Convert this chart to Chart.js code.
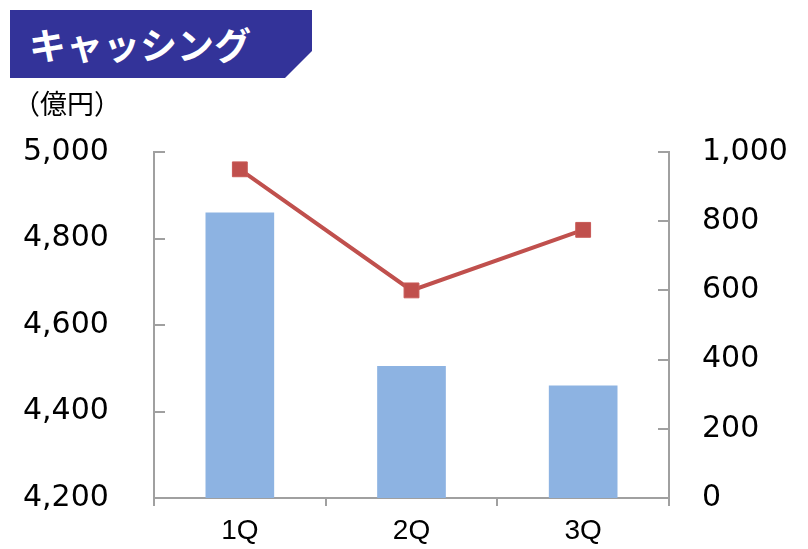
<!DOCTYPE html>
<html lang="ja">
<head>
<meta charset="utf-8">
<title>キャッシング</title>
<script src="https://cdn.jsdelivr.net/npm/chart.js@4"></script>
<style>
  html, body { margin: 0; padding: 0; background: #ffffff; }
  #wrap { position: relative; width: 808px; height: 549px; overflow: hidden; }
  #chart { position: absolute; left: 0; top: 0; }
  #banner {
    position: absolute; left: 10px; top: 10px; width: 302px; height: 68px;
    background: #333399;
    clip-path: polygon(0 0, 100% 0, 100% 41px, 275px 100%, 0 100%);
  }
  #banner span {
    position: absolute; left: 19px; top: 11px;
    font-family: "Noto Sans CJK JP", sans-serif; font-weight: bold;
    font-size: 37px; line-height: 46px; color: #ffffff;
  }
  #unit {
    position: absolute; left: 13px; top: 85px;
    font-family: "Noto Sans CJK JP", sans-serif;
    font-size: 27px; line-height: 36px; color: #000000;
  }
</style>
</head>
<body>
<div id="wrap">
  <canvas id="chart" width="808" height="549"></canvas>
  <div id="banner"><span>キャッシング</span></div>
  <div id="unit">（億円）</div>
</div>
<script>
// Quarterly cashing figures (億円)
const categories = ['1Q', '2Q', '3Q'];
const balanceValues = [4860, 4505, 4460];   // bars, left axis
const lineValues = [950, 600, 775];         // line, right axis
const leftTicks = [4200, 4400, 4600, 4800, 5000];
const rightTicks = [0, 200, 400, 600, 800, 1000];

const AXIS_GREY = '#a0a0a0';
const numFont = { family: '"DejaVu Sans", Verdana, sans-serif', size: 30 };
const fmt = v => Number(v).toLocaleString('en-US');

// Short tick marks drawn inward from each value axis
const innerTicks = {
  id: 'innerTicks',
  afterDraw(chart) {
    const ctx = chart.ctx;
    ctx.save();
    ctx.strokeStyle = AXIS_GREY;
    ctx.lineWidth = 2;
    [['y', 1], ['y1', -1]].forEach(([id, dir]) => {
      const s = chart.scales[id];
      const x0 = id === 'y' ? s.right : s.left;
      s.ticks.forEach((t, i) => {
        const py = Math.round(s.getPixelForTick(i));
        ctx.beginPath();
        ctx.moveTo(x0, py);
        ctx.lineTo(x0 + dir * 11, py);
        ctx.stroke();
      });
    });
    ctx.restore();
  }
};

new Chart(document.getElementById('chart'), {
  type: 'bar',
  data: {
    labels: categories,
    datasets: [
      {
        type: 'line',
        data: lineValues,
        yAxisID: 'y1',
        borderColor: '#c0504d',
        backgroundColor: '#c0504d',
        borderWidth: 4,
        pointStyle: 'rect',
        pointRadius: 10.5,
        pointBorderWidth: 1,
        pointBorderColor: '#c85a57',
        pointBackgroundColor: '#c0504d',
        tension: 0,
        order: 1
      },
      {
        type: 'bar',
        data: balanceValues,
        yAxisID: 'y',
        backgroundColor: '#8db3e2',
        borderWidth: 0,
        barPercentage: 0.4,
        categoryPercentage: 1.0,
        order: 2
      }
    ]
  },
  options: {
    responsive: false,
    devicePixelRatio: 1,
    animation: false,
    layout: { padding: { top: 152, left: 23, right: 0, bottom: 0 } },
    plugins: { legend: { display: false }, tooltip: { enabled: false } },
    scales: {
      x: {
        position: 'bottom',
        offset: true,
        grid: {
          display: true, offset: true, drawOnChartArea: false,
          drawTicks: true, tickLength: 8, color: AXIS_GREY, lineWidth: 2
        },
        border: { display: true, color: AXIS_GREY, width: 2 },
        ticks: {
          color: '#000000', padding: 8,
          font: { family: '"Liberation Sans", Arial, sans-serif', size: 28 }
        },
        afterFit(s) { s.height = 51; }
      },
      y: {
        position: 'left',
        min: 4200, max: 5000,
        afterBuildTicks(s) { s.ticks = leftTicks.map(v => ({ value: v })); },
        grid: { display: false, drawTicks: false },
        border: { display: true, color: AXIS_GREY, width: 2 },
        ticks: { color: '#000000', padding: 0, crossAlign: 'far', font: numFont, callback: fmt },
        afterFit(s) { s.width = 131; }
      },
      y1: {
        position: 'right',
        min: 0, max: 1000,
        afterBuildTicks(s) { s.ticks = rightTicks.map(v => ({ value: v })); },
        grid: { display: false, drawTicks: false },
        border: { display: true, color: AXIS_GREY, width: 2 },
        ticks: { color: '#000000', padding: 33, font: numFont, callback: fmt },
        afterFit(s) { s.width = 139; }
      }
    }
  },
  plugins: [innerTicks]
});
</script>
</body>
</html>
